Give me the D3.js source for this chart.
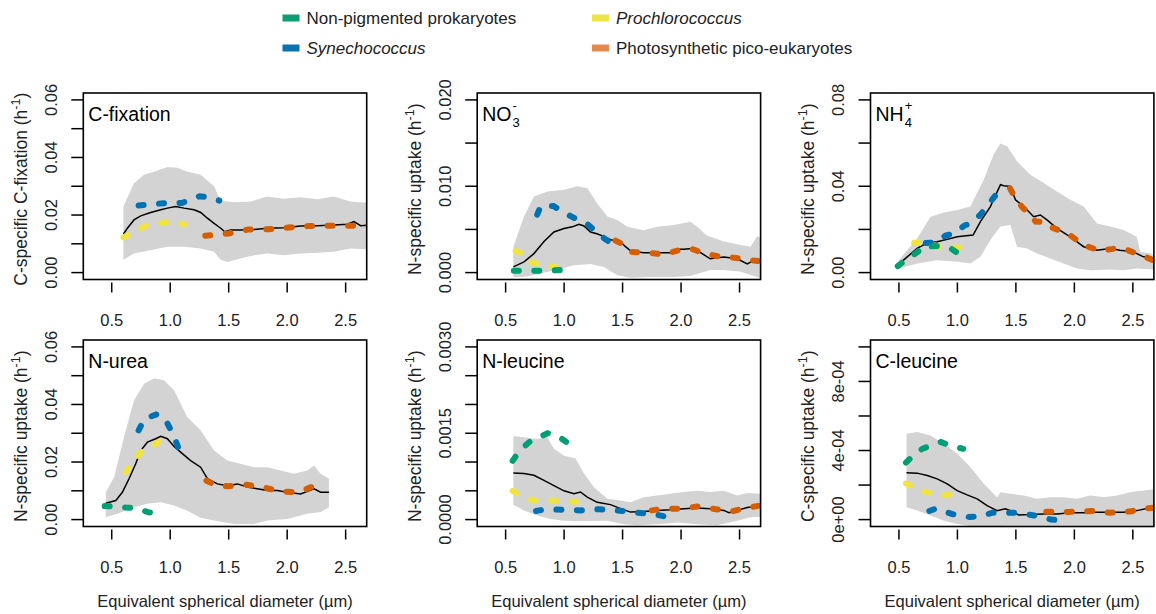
<!DOCTYPE html>
<html>
<head>
<meta charset="utf-8">
<title>Size-specific uptake</title>
<script src="https://d3js.org/d3.v7.min.js"></script>
<style>
body { margin: 0; background: #fff; }
svg { font-family: "Liberation Sans", Arial, sans-serif; }
.box { fill: none; stroke: #000; stroke-width: 1.6; }
.tick { stroke: #000; stroke-width: 1.5; }
.band { fill: #d3d3d3; stroke: none; }
.mean { fill: none; stroke: #000; stroke-width: 1.5; }
.grp { fill: none; stroke-width: 6; stroke-linecap: round; stroke-dasharray: 5 15.5; }
</style>
</head>
<body>
<script>
// colours
var colNonpig = "#009E73", colPro = "#F0E442", colSyn = "#0072B2", colPeuk = "#D55E00";

var xTicks = [0.5, 1.0, 1.5, 2.0, 2.5];

// ---- C-fixation
var cfixMean = [[0.60,0.0134],[0.634,0.0154],[0.69,0.0183],[0.748,0.0197],[0.833,0.0209],[0.919,0.0218],[0.976,0.0224],[1.047,0.0230],[1.118,0.0224],[1.204,0.0218],[1.261,0.0209],[1.318,0.0189],[1.375,0.0171],[1.432,0.0154],[1.466,0.0142],[1.517,0.0148],[1.603,0.0148],[1.717,0.0150],[1.83,0.0154],[1.973,0.0156],[2.115,0.0162],[2.258,0.0163],[2.40,0.0165],[2.514,0.0168],[2.571,0.0177],[2.628,0.0163],[2.70,0.0165]];
var cfixUpper = [[0.60,0.0230],[0.69,0.0310],[0.776,0.0340],[0.862,0.0350],[0.976,0.0367],[1.06,0.0364],[1.15,0.0350],[1.26,0.0340],[1.375,0.0300],[1.43,0.0250],[1.49,0.0247],[1.545,0.0244],[1.69,0.0247],[1.83,0.0264],[1.97,0.0257],[2.115,0.0262],[2.26,0.0255],[2.40,0.0264],[2.54,0.0247],[2.70,0.0242]];
var cfixLower = [[0.60,0.0045],[0.69,0.0066],[0.83,0.0078],[0.976,0.0090],[1.118,0.0090],[1.26,0.0084],[1.375,0.0072],[1.43,0.0045],[1.49,0.0037],[1.60,0.0049],[1.717,0.0060],[1.83,0.0066],[1.97,0.0060],[2.115,0.0066],[2.26,0.0069],[2.40,0.0072],[2.54,0.0084],[2.70,0.0081]];
var cfixPro = [[0.60,0.0122],[0.79,0.0162],[0.96,0.0175],[1.12,0.0168]];
var cfixSyn = [[0.73,0.0233],[0.94,0.0241],[1.10,0.0242],[1.25,0.0265],[1.33,0.0262],[1.42,0.0250]];
var cfixPeuk = [[1.30,0.0128],[1.50,0.0136],[1.67,0.0150],[1.85,0.0151],[2.02,0.0157],[2.19,0.0162],[2.36,0.0163],[2.51,0.0163],[2.70,0.0162]];

// ---- NO3-
var no3Mean = [[0.566,0.00066],[0.657,0.00124],[0.742,0.0022],[0.828,0.0036],[0.913,0.0047],[0.999,0.0051],[1.07,0.0053],[1.127,0.0056],[1.17,0.0054],[1.226,0.0047],[1.28,0.0045],[1.34,0.0042],[1.397,0.0038],[1.48,0.0036],[1.525,0.0030],[1.57,0.0025],[1.68,0.0023],[1.80,0.0023],[1.91,0.0023],[1.97,0.0027],[2.02,0.0027],[2.095,0.0028],[2.167,0.0023],[2.25,0.0016],[2.366,0.0018],[2.48,0.0016],[2.566,0.0010],[2.62,0.0014],[2.69,0.0012]];
var no3Upper = [[0.566,0.0030],[0.657,0.0065],[0.742,0.0088],[0.856,0.0094],[0.999,0.0096],[1.11,0.0100],[1.198,0.0098],[1.283,0.0080],[1.37,0.0065],[1.454,0.0061],[1.54,0.0053],[1.68,0.0049],[1.796,0.0053],[1.938,0.0055],[2.08,0.0059],[2.138,0.0053],[2.22,0.0043],[2.366,0.0036],[2.51,0.0032],[2.594,0.0030],[2.65,0.0042],[2.69,0.0040]];
var no3Lower = [[0.566,-0.0005],[0.657,-0.0005],[0.80,-0.0001],[0.942,0.00035],[1.084,0.00085],[1.226,0.0010],[1.34,0.00066],[1.454,-0.0003],[1.568,-0.0006],[1.74,-0.0005],[1.938,-0.0005],[2.08,-0.0004],[2.25,0.0003],[2.366,0.0003],[2.51,0.0001],[2.65,-0.0005],[2.69,-0.0007]];
var no3Nonpig = [[0.57,0.0002],[0.70,0.0002],[0.85,0.00022],[1.05,0.00035]];
var no3Pro = [[0.585,0.0025],[0.66,0.0022],[0.72,0.0012],[0.85,0.0008],[0.96,0.00055]];
var no3Syn = [[0.77,0.0067],[0.80,0.0077],[0.91,0.0077],[1.06,0.0065],[1.20,0.0056],[1.34,0.0040],[1.38,0.0036]];
var no3Peuk = [[1.44,0.0037],[1.50,0.0033],[1.57,0.0024],[1.71,0.0023],[1.85,0.0021],[2.01,0.0027],[2.10,0.0027],[2.18,0.0023],[2.31,0.0019],[2.47,0.0017],[2.62,0.0014],[2.69,0.0013]];

// ---- NH4+
var nh4Mean = [[0.5,0.0039],[0.571,0.0073],[0.656,0.0112],[0.742,0.0138],[0.827,0.0143],[0.913,0.0154],[0.998,0.0166],[1.055,0.0169],[1.134,0.0174],[1.197,0.0236],[1.282,0.0306],[1.368,0.0407],[1.396,0.0402],[1.453,0.0399],[1.496,0.0337],[1.567,0.0306],[1.652,0.0259],[1.709,0.0267],[1.766,0.0244],[1.851,0.0205],[1.965,0.0166],[2.079,0.0120],[2.193,0.0104],[2.306,0.0112],[2.39,0.0104],[2.505,0.0096],[2.59,0.0073],[2.65,0.0073],[2.70,0.0057]];
var nh4Upper = [[0.5,0.0057],[0.571,0.0104],[0.656,0.0158],[0.77,0.0259],[0.884,0.0278],[0.998,0.0290],[1.11,0.0306],[1.225,0.0430],[1.31,0.0547],[1.368,0.0598],[1.425,0.0585],[1.51,0.0516],[1.624,0.0453],[1.738,0.0415],[1.851,0.0376],[1.965,0.0337],[2.079,0.0306],[2.193,0.0228],[2.306,0.0213],[2.42,0.0197],[2.534,0.0166],[2.563,0.0096],[2.65,0.0089],[2.70,0.0073]];
var nh4Lower = [[0.5,0.0019],[0.656,0.0042],[0.827,0.0057],[0.998,0.0050],[1.11,0.0042],[1.197,0.0073],[1.282,0.0151],[1.368,0.0213],[1.453,0.0220],[1.51,0.0120],[1.595,0.0112],[1.68,0.0089],[1.794,0.0065],[1.908,0.0042],[2.022,0.0019],[2.136,0.0011],[2.306,0.0014],[2.42,0.0011],[2.534,0.0019],[2.70,0.0014]];
var nh4Nonpig = [[0.49,0.0030],[0.56,0.0060],[0.66,0.0095],[0.70,0.0120],[0.84,0.0123],[0.95,0.0110],[1.03,0.0080]];
var nh4Pro = [[0.63,0.0138],[0.75,0.0135],[0.87,0.0115],[1.0,0.0115],[1.08,0.0123]];
var nh4Syn = [[0.73,0.0137],[0.81,0.0140],[0.90,0.0172],[0.97,0.0180],[1.06,0.0218],[1.12,0.0230],[1.20,0.0270],[1.30,0.0340],[1.35,0.0375]];
var nh4Peuk = [[1.45,0.0390],[1.50,0.0340],[1.56,0.0300],[1.62,0.0270],[1.67,0.0236],[1.75,0.0235],[1.80,0.0210],[1.94,0.0182],[2.08,0.0127],[2.22,0.0101],[2.33,0.0110],[2.39,0.0116],[2.50,0.0095],[2.60,0.0075],[2.70,0.0050]];

// ---- N-urea
var ureaMean = [[0.449,0.0057],[0.534,0.0066],[0.591,0.0095],[0.648,0.0142],[0.705,0.0194],[0.748,0.0240],[0.805,0.0269],[0.876,0.0281],[0.919,0.0289],[0.976,0.0281],[1.033,0.0254],[1.104,0.0229],[1.175,0.0205],[1.26,0.0182],[1.318,0.0142],[1.403,0.0124],[1.489,0.0118],[1.574,0.0124],[1.66,0.0113],[1.745,0.0107],[1.83,0.0101],[1.916,0.0101],[2.0,0.0095],[2.115,0.0089],[2.23,0.0107],[2.286,0.0095],[2.357,0.0095]];
var ureaUpper = [[0.449,0.0095],[0.52,0.0147],[0.605,0.0287],[0.69,0.0414],[0.776,0.0472],[0.862,0.0490],[0.947,0.0484],[1.033,0.0449],[1.147,0.0356],[1.26,0.0310],[1.375,0.0240],[1.489,0.0205],[1.60,0.0194],[1.717,0.0182],[1.83,0.0182],[1.944,0.0171],[2.058,0.0159],[2.172,0.0171],[2.23,0.0188],[2.286,0.0159],[2.357,0.0142]];
var ureaLower = [[0.449,0.0008],[0.548,0.0020],[0.69,0.0043],[0.805,0.0055],[0.919,0.0060],[1.033,0.0049],[1.147,0.0031],[1.26,0.0006],[1.375,-0.0003],[1.546,-0.0015],[1.717,-0.0015],[1.83,-0.0003],[2.0,0.0002],[2.172,0.0020],[2.286,0.0026],[2.357,0.0043]];
var ureaNonpig = [[0.44,0.0047],[0.52,0.0046],[0.62,0.0042],[0.70,0.0040],[0.81,0.0026],[0.89,0.0021]];
var ureaPro = [[0.62,0.0165],[0.75,0.0235],[0.86,0.0258],[0.99,0.0295]];
var ureaSyn = [[0.73,0.0310],[0.78,0.0350],[0.88,0.0365],[0.95,0.0355],[1.02,0.0300],[1.09,0.0230]];
var ureaPeuk = [[1.31,0.0135],[1.40,0.0118],[1.50,0.0116],[1.63,0.0122],[1.78,0.0113],[1.95,0.0098],[2.10,0.0095],[2.20,0.0112],[2.26,0.0112]];

// ---- N-leucine
var nleuMean = [[0.566,0.00081],[0.657,0.00080],[0.742,0.00077],[0.828,0.00068],[0.913,0.00059],[0.999,0.00050],[1.084,0.00045],[1.14,0.00048],[1.198,0.00039],[1.283,0.00030],[1.397,0.00026],[1.483,0.00019],[1.568,0.00013],[1.68,0.00014],[1.796,0.00016],[1.91,0.00017],[2.024,0.00019],[2.138,0.00020],[2.25,0.00019],[2.366,0.00016],[2.409,0.00012],[2.48,0.00016],[2.566,0.00021],[2.68,0.00024]];
var nleuUpper = [[0.566,0.00145],[0.657,0.00143],[0.77,0.00140],[0.856,0.00143],[0.913,0.00123],[0.999,0.00111],[1.098,0.00106],[1.17,0.00080],[1.255,0.00056],[1.37,0.00036],[1.483,0.00033],[1.568,0.00030],[1.68,0.00039],[1.796,0.00042],[1.91,0.00045],[2.024,0.00048],[2.138,0.00050],[2.25,0.00048],[2.366,0.00050],[2.48,0.00042],[2.566,0.00046],[2.69,0.00045]];
var nleuLower = [[0.566,0.00026],[0.657,0.00016],[0.77,0.00007],[0.885,0.00001],[0.999,-0.00002],[1.11,-0.00003],[1.37,-0.00002],[1.51,-0.00008],[1.625,-0.00010],[1.80,-0.00008],[1.97,-0.00005],[2.14,-0.00008],[2.31,-0.00010],[2.48,-0.00002],[2.59,0.00004],[2.69,0.00005]];
var nleuNonpig = [[0.56,0.00102],[0.62,0.00120],[0.71,0.00136],[0.86,0.00150],[0.95,0.00145],[1.05,0.00130]];
var nleuPro = [[0.56,0.00050],[0.64,0.00040],[0.74,0.00033],[0.91,0.00033],[1.12,0.00031]];
var nleuSyn = [[0.76,0.00015],[0.85,0.00018],[1.0,0.00017],[1.15,0.00016],[1.30,0.00018],[1.5,0.00015],[1.62,0.00012],[1.72,0.00010],[1.80,0.00008],[1.90,0.00004]];
var nleuPeuk = [[1.75,0.00016],[1.85,0.00019],[2.0,0.00019],[2.15,0.00023],[2.3,0.00018],[2.45,0.00015],[2.55,0.00020],[2.69,0.00025]];

// ---- C-leucine
var cleuMean = [[0.565,0.000271],[0.656,0.000269],[0.742,0.000255],[0.827,0.000236],[0.913,0.000207],[0.998,0.000168],[1.083,0.000143],[1.169,0.000120],[1.254,0.000081],[1.339,0.000052],[1.41,0.000062],[1.453,0.000052],[1.524,0.000027],[1.624,0.000029],[1.738,0.000033],[1.851,0.000033],[1.965,0.000039],[2.079,0.000039],[2.193,0.000043],[2.306,0.000043],[2.42,0.000043],[2.534,0.000052],[2.648,0.000068],[2.70,0.000072]];
var cleuUpper = [[0.565,0.000497],[0.656,0.000507],[0.77,0.000487],[0.884,0.000439],[0.998,0.000381],[1.11,0.000304],[1.225,0.000207],[1.339,0.000130],[1.368,0.000159],[1.453,0.000149],[1.567,0.000139],[1.68,0.000120],[1.794,0.000130],[1.908,0.000130],[2.022,0.000120],[2.136,0.000139],[2.25,0.000130],[2.363,0.000139],[2.477,0.000159],[2.59,0.000168],[2.70,0.000178]];
var cleuLower = [[0.565,0.000072],[0.656,0.000052],[0.77,0.000023],[0.884,-0.000006],[0.998,-0.000025],[1.169,-0.000044],[1.339,-0.000044],[1.396,-0.000035],[1.70,-0.000035],[2.0,-0.000035],[2.3,-0.000035],[2.70,-0.000035]];
var cleuNonpig = [[0.56,0.00033],[0.62,0.00037],[0.70,0.00041],[0.78,0.00043],[0.86,0.00045],[0.93,0.00043],[1.05,0.00041]];
var cleuPro = [[0.56,0.00021],[0.65,0.00018],[0.73,0.00016],[0.88,0.00014],[0.97,0.00015],[1.06,0.00016]];
var cleuSyn = [[0.76,0.00005],[0.82,0.000065],[0.95,0.000033],[1.1,0.000015],[1.2,0.00002],[1.3,0.00004],[1.5,0.00004],[1.6,0.00003],[1.7,0.00002],[1.8,0.0],[1.86,-0.000002]];
var cleuPeuk = [[1.76,0.000045],[1.95,0.000044],[2.15,0.00005],[2.3,0.00004],[2.48,0.000047],[2.55,0.00006],[2.70,0.00007]];

// y tick settings per panel
var cfixTicks = [0, 0.01, 0.02, 0.03, 0.04, 0.05, 0.06], cfixLabels = ["0.00", "", "0.02", "", "0.04", "", "0.06"];
var no3Ticks = [0, 0.005, 0.010, 0.015, 0.020], no3Labels = ["0.000", "", "0.010", "", "0.020"];
var nh4Ticks = [0, 0.02, 0.04, 0.06, 0.08], nh4Labels = ["0.00", "", "0.04", "", "0.08"];
var ureaTicks = cfixTicks, ureaLabels = cfixLabels;
var nleuTicks = [0, 0.0005, 0.001, 0.0015, 0.002, 0.0025, 0.003], nleuLabels = ["0.0000", "", "", "0.0015", "", "", "0.0030"];
var cleuTicks = [0, 0.0002, 0.0004, 0.0006, 0.0008, 0.001], cleuLabels = ["0e+00", "", "4e-04", "", "8e-04", ""];

var panels = [
  {id: "cfix", col: 0, row: 0, title: ["C-fixation"], ylab: "C-specific C-fixation (h", ticks: cfixTicks, labels: cfixLabels,
   mean: cfixMean, upper: cfixUpper, lower: cfixLower, groups: [[cfixPro, colPro], [cfixSyn, colSyn], [cfixPeuk, colPeuk]]},
  {id: "no3", col: 1, row: 0, title: ["NO", "3", "-"], ylab: "N-specific uptake (h", ticks: no3Ticks, labels: no3Labels,
   mean: no3Mean, upper: no3Upper, lower: no3Lower, groups: [[no3Pro, colPro], [no3Syn, colSyn], [no3Peuk, colPeuk], [no3Nonpig, colNonpig]]},
  {id: "nh4", col: 2, row: 0, title: ["NH", "4", "+"], ylab: "N-specific uptake (h", ticks: nh4Ticks, labels: nh4Labels,
   mean: nh4Mean, upper: nh4Upper, lower: nh4Lower, groups: [[nh4Pro, colPro], [nh4Syn, colSyn], [nh4Nonpig, colNonpig], [nh4Peuk, colPeuk]]},
  {id: "urea", col: 0, row: 1, title: ["N-urea"], ylab: "N-specific uptake (h", ticks: ureaTicks, labels: ureaLabels,
   mean: ureaMean, upper: ureaUpper, lower: ureaLower, groups: [[ureaNonpig, colNonpig], [ureaPro, colPro], [ureaSyn, colSyn], [ureaPeuk, colPeuk]]},
  {id: "nleu", col: 1, row: 1, title: ["N-leucine"], ylab: "N-specific uptake (h", ticks: nleuTicks, labels: nleuLabels,
   mean: nleuMean, upper: nleuUpper, lower: nleuLower, groups: [[nleuNonpig, colNonpig], [nleuPro, colPro], [nleuSyn, colSyn], [nleuPeuk, colPeuk]]},
  {id: "cleu", col: 2, row: 1, title: ["C-leucine"], ylab: "C-specific uptake (h", ticks: cleuTicks, labels: cleuLabels,
   mean: cleuMean, upper: cleuUpper, lower: cleuLower, groups: [[cleuNonpig, colNonpig], [cleuPro, colPro], [cleuSyn, colSyn], [cleuPeuk, colPeuk]]}
];

var legendItems = [
  {label: "Non-pigmented prokaryotes", color: "#0a9e72", italic: false, x: 282.5, y: 18},
  {label: "Synechococcus", color: "#0b72b0", italic: true, x: 282.5, y: 48},
  {label: "Prochlorococcus", color: "#efe445", italic: true, x: 592, y: 18},
  {label: "Photosynthetic pico-eukaryotes", color: "#e38b4c", italic: false, x: 592, y: 48}
];

var width = 1156, height = 614;
var lefts = [83.3, 477.2, 870.5], tops = [93, 340];
var pw = 283.4, ph = 186.5;

var svg = d3.select("body").append("svg")
  .attr("width", width)
  .attr("height", height);

// legend
var leg = svg.append("g");
legendItems.forEach(function(d) {
  leg.append("rect").attr("x", d.x).attr("y", d.y - 3.5).attr("width", 17).attr("height", 7).attr("fill", d.color);
  leg.append("text").attr("x", d.x + 24).attr("y", d.y + 6)
    .attr("font-size", 17).attr("font-style", d.italic ? "italic" : "normal").attr("fill", "#222")
    .text(d.label);
});

panels.forEach(function(p) {
  var x0 = lefts[p.col], y0 = tops[p.row];
  var tmax = p.ticks[p.ticks.length - 1];
  var x = d3.scaleLinear().domain([0.257, 2.68]).range([x0, x0 + pw]);
  var y = d3.scaleLinear().domain([-0.04 * tmax, 1.04 * tmax]).range([y0 + ph, y0]);
  var g = svg.append("g");

  g.append("clipPath").attr("id", "clip-" + p.id)
    .append("rect").attr("x", x0).attr("y", y0).attr("width", pw).attr("height", ph);

  var inner = g.append("g").attr("clip-path", "url(#clip-" + p.id + ")");
  var line = d3.line().x(function(d) { return x(d[0]); }).y(function(d) { return y(d[1]); });

  // gray envelope: upper forward, lower backward
  var poly = p.upper.concat(p.lower.slice().reverse());
  inner.append("path").attr("class", "band").attr("d", line(poly) + "Z");
  inner.append("path").attr("class", "mean").attr("d", line(p.mean));
  p.groups.forEach(function(gr) {
    inner.append("path").attr("class", "grp").attr("stroke", gr[1]).attr("d", line(gr[0]));
  });

  g.append("rect").attr("class", "box").attr("x", x0).attr("y", y0).attr("width", pw).attr("height", ph);

  // y axis
  p.ticks.forEach(function(t, i) {
    var yy = y(t);
    g.append("line").attr("class", "tick").attr("x1", x0 - 12).attr("x2", x0).attr("y1", yy).attr("y2", yy);
    if (p.labels[i]) {
      g.append("text").attr("transform", "translate(" + (x0 - 26.5) + "," + yy + ") rotate(-90)")
        .attr("text-anchor", "middle").attr("font-size", 16.5).attr("fill", "#222").text(p.labels[i]);
    }
  });

  // x axis
  xTicks.forEach(function(t) {
    var xx = x(t);
    g.append("line").attr("class", "tick").attr("x1", xx).attr("x2", xx).attr("y1", y0 + ph + 3).attr("y2", y0 + ph + 13);
    g.append("text").attr("x", xx).attr("y", y0 + ph + 46).attr("text-anchor", "middle")
      .attr("font-size", 16.5).attr("fill", "#222").text(t.toFixed(1));
  });

  // y title
  var yt = g.append("text").attr("transform", "translate(" + (x0 - 56.5) + "," + (y0 + ph / 2 + 3) + ") rotate(-90)")
    .attr("text-anchor", "middle").attr("font-size", 17.5).attr("fill", "#222");
  yt.append("tspan").text(p.ylab);
  yt.append("tspan").attr("font-size", 12.5).attr("dy", -7).text("-1");
  yt.append("tspan").attr("dy", 7).text(")");

  // x title, bottom row only
  if (p.row === 1) {
    g.append("text").attr("x", x0 + pw / 2).attr("y", y0 + ph + 80).attr("text-anchor", "middle")
      .attr("font-size", 16.5).attr("fill", "#222").text("Equivalent spherical diameter (\u00b5m)");
  }

  // panel title
  var tt = g.append("text").attr("x", x0 + 5).attr("y", y0 + 28).attr("font-size", 19.5).text(p.title[0]);
  if (p.title.length > 1) {
    var w = tt.node().getComputedTextLength();
    g.append("text").attr("x", x0 + 6 + w).attr("y", y0 + 34).attr("font-size", 13).text(p.title[1]);
    g.append("text").attr("x", x0 + 6 + w).attr("y", y0 + 17).attr("font-size", 13).text(p.title[2]);
  }
});
</script>
</body>
</html>
